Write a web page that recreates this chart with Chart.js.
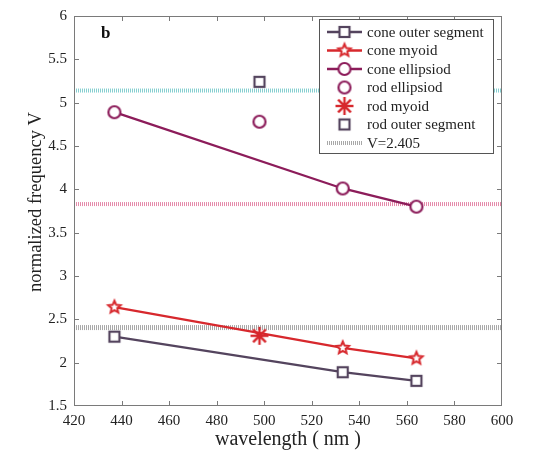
<!DOCTYPE html>
<html>
<head>
<meta charset="utf-8">
<script src="https://cdn.jsdelivr.net/npm/chart.js@4.4.0/dist/chart.umd.min.js"></script>
<style>
  html, body { margin: 0; padding: 0; background: #fff; }
  canvas { display: block; }
</style>
</head>
<body>
<canvas id="freqChart" width="556" height="453"></canvas>
<script>
// wavelengths (nm) of the three cone types and of the rod
const coneWavelengths = [437, 533, 564];
const rodWavelength = [498];

// normalized frequency V
const coneOuterSegment = [2.30, 1.89, 1.79];
const coneMyoid = [2.64, 2.17, 2.05];
const coneEllipsoid = [4.89, 4.01, 3.80];
const rodEllipsoid = [4.78];
const rodMyoid = [2.31];
const rodOuterSegment = [5.24];

// horizontal reference levels
const refRange = [420, 600];
const cutoffV = 2.405;
const rodLevel = 5.14;
const coneLevel = 3.83;

const xTicks = [420, 440, 460, 480, 500, 520, 540, 560, 580, 600];
const yTicks = [1.5, 2, 2.5, 3, 3.5, 4, 4.5, 5, 5.5, 6];

const SERIF = "'Liberation Serif', 'DejaVu Serif', serif";
const GREY_PURPLE = "#54445e";
const RED = "#d7282d";
const MAROON = "#8c1c5a";

function pts(xs, ys) {
  return xs.map((x, i) => ({ x: x, y: ys[i] }));
}

// markers drawn once on small canvases, used both in the plot and the legend
function makeMarker(kind, color) {
  const c = document.createElement("canvas");
  c.width = 22;
  c.height = 22;
  const g = c.getContext("2d");
  const m = 11;
  g.strokeStyle = color;
  g.fillStyle = "#fff";
  g.lineWidth = 2.2;
  if (kind === "square") {
    g.fillRect(m - 5, m - 5, 10, 10);
    g.strokeRect(m - 5, m - 5, 10, 10);
  } else if (kind === "circle") {
    g.beginPath();
    g.arc(m, m, 6, 0, Math.PI * 2);
    g.fill();
    g.stroke();
  } else if (kind === "pentagram") {
    g.lineWidth = 2;
    g.beginPath();
    for (let i = 0; i < 10; i++) {
      const r = i % 2 === 0 ? 6.5 : 3;
      const a = -Math.PI / 2 + (i * Math.PI) / 5;
      const px = m + r * Math.cos(a);
      const py = m + r * Math.sin(a);
      if (i === 0) g.moveTo(px, py);
      else g.lineTo(px, py);
    }
    g.closePath();
    g.fill();
    g.stroke();
  } else if (kind === "asterisk") {
    g.lineWidth = 2.4;
    for (let k = 0; k < 4; k++) {
      const a = (k * Math.PI) / 4;
      g.beginPath();
      g.moveTo(m - 9 * Math.cos(a), m - 9 * Math.sin(a));
      g.lineTo(m + 9 * Math.cos(a), m + 9 * Math.sin(a));
      g.stroke();
    }
  }
  return c;
}

const squareMark = makeMarker("square", GREY_PURPLE);
const starMark = makeMarker("pentagram", RED);
const circleMark = makeMarker("circle", MAROON);
const asteriskMark = makeMarker("asterisk", RED);

const legendItems = [
  { label: "cone outer segment", line: GREY_PURPLE, marker: squareMark },
  { label: "cone myoid", line: RED, marker: starMark },
  { label: "cone ellipsiod", line: MAROON, marker: circleMark },
  { label: "rod ellipsiod", marker: circleMark },
  { label: "rod myoid", marker: asteriskMark },
  { label: "rod outer segment", marker: squareMark },
  { label: "V=2.405", line: "#a8a8a8", dashed: true }
];

// box, inward ticks, y title, panel letter and legend
const framePlugin = {
  id: "frame",
  afterDraw(chart) {
    const ctx = chart.ctx;
    const a = chart.chartArea;
    const xs = chart.scales.x;
    const ys = chart.scales.y;
    ctx.save();
    ctx.strokeStyle = "#7a7a7a";
    ctx.lineWidth = 1;
    ctx.strokeRect(a.left + 0.5, a.top + 0.5, a.right - a.left - 1, a.bottom - a.top - 1);
    ctx.beginPath();
    xTicks.slice(1, -1).forEach((v) => {
      const px = Math.round(xs.getPixelForValue(v)) + 0.5;
      ctx.moveTo(px, a.bottom);
      ctx.lineTo(px, a.bottom - 5);
      ctx.moveTo(px, a.top);
      ctx.lineTo(px, a.top + 5);
    });
    yTicks.slice(1, -1).forEach((v) => {
      const py = Math.round(ys.getPixelForValue(v)) + 0.5;
      ctx.moveTo(a.left, py);
      ctx.lineTo(a.left + 5, py);
      ctx.moveTo(a.right, py);
      ctx.lineTo(a.right - 5, py);
    });
    ctx.stroke();

    // y axis title
    ctx.save();
    ctx.translate(36, 202);
    ctx.rotate(-Math.PI / 2);
    ctx.fillStyle = "#222";
    ctx.font = "18.5px " + SERIF;
    ctx.textAlign = "center";
    ctx.textBaseline = "middle";
    ctx.fillText("normalized frequency V", 0, 0);
    ctx.restore();

    ctx.fillStyle = "#111";
    ctx.font = "bold 17px " + SERIF;
    ctx.textBaseline = "middle";
    ctx.textAlign = "left";
    ctx.fillText("b", 101, 34);

    // legend
    const lx = 319, ly = 19, lw = 174, lh = 134;
    ctx.fillStyle = "#fff";
    ctx.fillRect(lx, ly, lw, lh);
    ctx.strokeStyle = "#555";
    ctx.strokeRect(lx + 0.5, ly + 0.5, lw, lh);
    ctx.font = "15px " + SERIF;
    legendItems.forEach((item, i) => {
      const cy = 32 + i * 18.5;
      if (item.line) {
        ctx.beginPath();
        ctx.strokeStyle = item.line;
        ctx.lineWidth = item.dashed ? 4 : 2.3;
        ctx.setLineDash(item.dashed ? [1, 1] : []);
        ctx.moveTo(327, cy);
        ctx.lineTo(362, cy);
        ctx.stroke();
        ctx.setLineDash([]);
      }
      if (item.marker) {
        ctx.drawImage(item.marker, 344.5 - 11, cy - 11);
      }
      ctx.fillStyle = "#222";
      ctx.fillText(item.label, 367, cy + 1);
    });
    ctx.restore();
  }
};

function refLine(level, color, width) {
  return {
    data: pts(refRange, [level, level]),
    showLine: true,
    borderColor: color,
    borderWidth: width,
    borderDash: [1, 1],
    pointRadius: 0
  };
}

const ctx = document.getElementById("freqChart").getContext("2d");
const freqChart = new Chart(ctx, {
  type: "scatter",
  data: {
    datasets: [
      {
        label: "rod outer segment",
        data: pts(rodWavelength, rodOuterSegment),
        pointStyle: squareMark
      },
      {
        label: "rod myoid",
        data: pts(rodWavelength, rodMyoid),
        pointStyle: asteriskMark
      },
      {
        label: "rod ellipsiod",
        data: pts(rodWavelength, rodEllipsoid),
        pointStyle: circleMark
      },
      {
        label: "cone ellipsiod",
        data: pts(coneWavelengths, coneEllipsoid),
        showLine: true,
        borderColor: MAROON,
        borderWidth: 2.3,
        pointStyle: circleMark
      },
      {
        label: "cone myoid",
        data: pts(coneWavelengths, coneMyoid),
        showLine: true,
        borderColor: RED,
        borderWidth: 2.3,
        pointStyle: starMark
      },
      {
        label: "cone outer segment",
        data: pts(coneWavelengths, coneOuterSegment),
        showLine: true,
        borderColor: GREY_PURPLE,
        borderWidth: 2.3,
        pointStyle: squareMark
      },
      refLine(coneLevel, "#e58aaa", 4),
      refLine(rodLevel, "#86cfd0", 4),
      refLine(cutoffV, "#a8a8a8", 5)
    ]
  },
  options: {
    responsive: false,
    animation: false,
    layout: { padding: { top: 12, right: 54, left: 0, bottom: 0 } },
    plugins: {
      legend: { display: false },
      tooltip: { enabled: false }
    },
    scales: {
      x: {
        type: "linear",
        min: 420,
        max: 600,
        afterFit: (s) => { s.height = 47; },
        afterBuildTicks: (s) => { s.ticks = xTicks.map((v) => ({ value: v })); },
        grid: { display: false, drawTicks: false },
        border: { display: false },
        ticks: {
          padding: 6,
          maxRotation: 0,
          autoSkip: false,
          color: "#222",
          font: { family: SERIF, size: 15 },
          callback: (v) => String(v)
        },
        title: {
          display: true,
          text: "wavelength ( nm )",
          color: "#222",
          font: { family: SERIF, size: 20 },
          padding: { top: 0, bottom: 1 }
        }
      },
      y: {
        min: 1.5,
        max: 6,
        afterFit: (s) => { s.width = 74; },
        afterBuildTicks: (s) => { s.ticks = yTicks.map((v) => ({ value: v })); },
        grid: { display: false, drawTicks: false },
        border: { display: false },
        ticks: {
          padding: 7,
          autoSkip: false,
          color: "#222",
          font: { family: SERIF, size: 15 },
          callback: (v) => String(v)
        }
      }
    }
  },
  plugins: [framePlugin]
});
</script>
</body>
</html>
